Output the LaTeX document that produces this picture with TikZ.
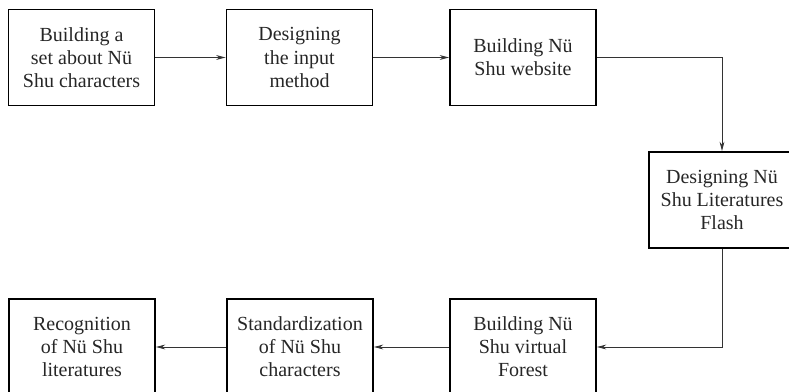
\documentclass[tikz,border=0pt]{standalone}
\usepackage{fontspec}
\setmainfont{Liberation Serif}
\usetikzlibrary{arrows.meta}
\tikzset{
  stage/.style={draw=black, line width=1.4pt, minimum width=109.5pt, minimum height=72pt,
    inner sep=0pt, align=center, font=\fontsize{15pt}{17.3pt}\selectfont, text=black!85},
  flow/.style={draw=black!80, line width=0.6pt, -{Stealth[length=7pt,width=3.6pt]}}
}
\begin{document}
\begin{tikzpicture}[x=0.75pt, y=-0.75pt]
  \useasboundingbox (0,0) rectangle (789,392);
  \clip (0,0) rectangle (789,392);
  % top row
  \node[stage] (b1) at (81.5,57.5) {Building a\\set about Nü\\Shu characters};
  \node[stage] (b2) at (299.5,57.5) {Designing\\the input\\method};
  \node[stage] (b3) at (523,57.5) {Building Nü\\Shu website};
  % right column
  \node[stage] (b4) at (722,200) {Designing Nü\\Shu Literatures\\Flash};
  % bottom row
  \node[stage] (b5) at (523,347) {Building Nü\\Shu virtual\\Forest};
  \node[stage] (b6) at (300,347) {Standardization\\of Nü Shu\\characters};
  \node[stage] (b7) at (82,347) {Recognition\\of Nü Shu\\literatures};
  % connectors
  \draw[flow] (b1.east) -- (b2.west);
  \draw[flow] (b2.east) -- (b3.west);
  \draw[flow] (b3.east) -| (b4.north);
  \draw[flow] (b4.south) |- (b5.east);
  \draw[flow] (b5.west) -- (b6.east);
  \draw[flow] (b6.west) -- (b7.east);
\end{tikzpicture}
\end{document}
